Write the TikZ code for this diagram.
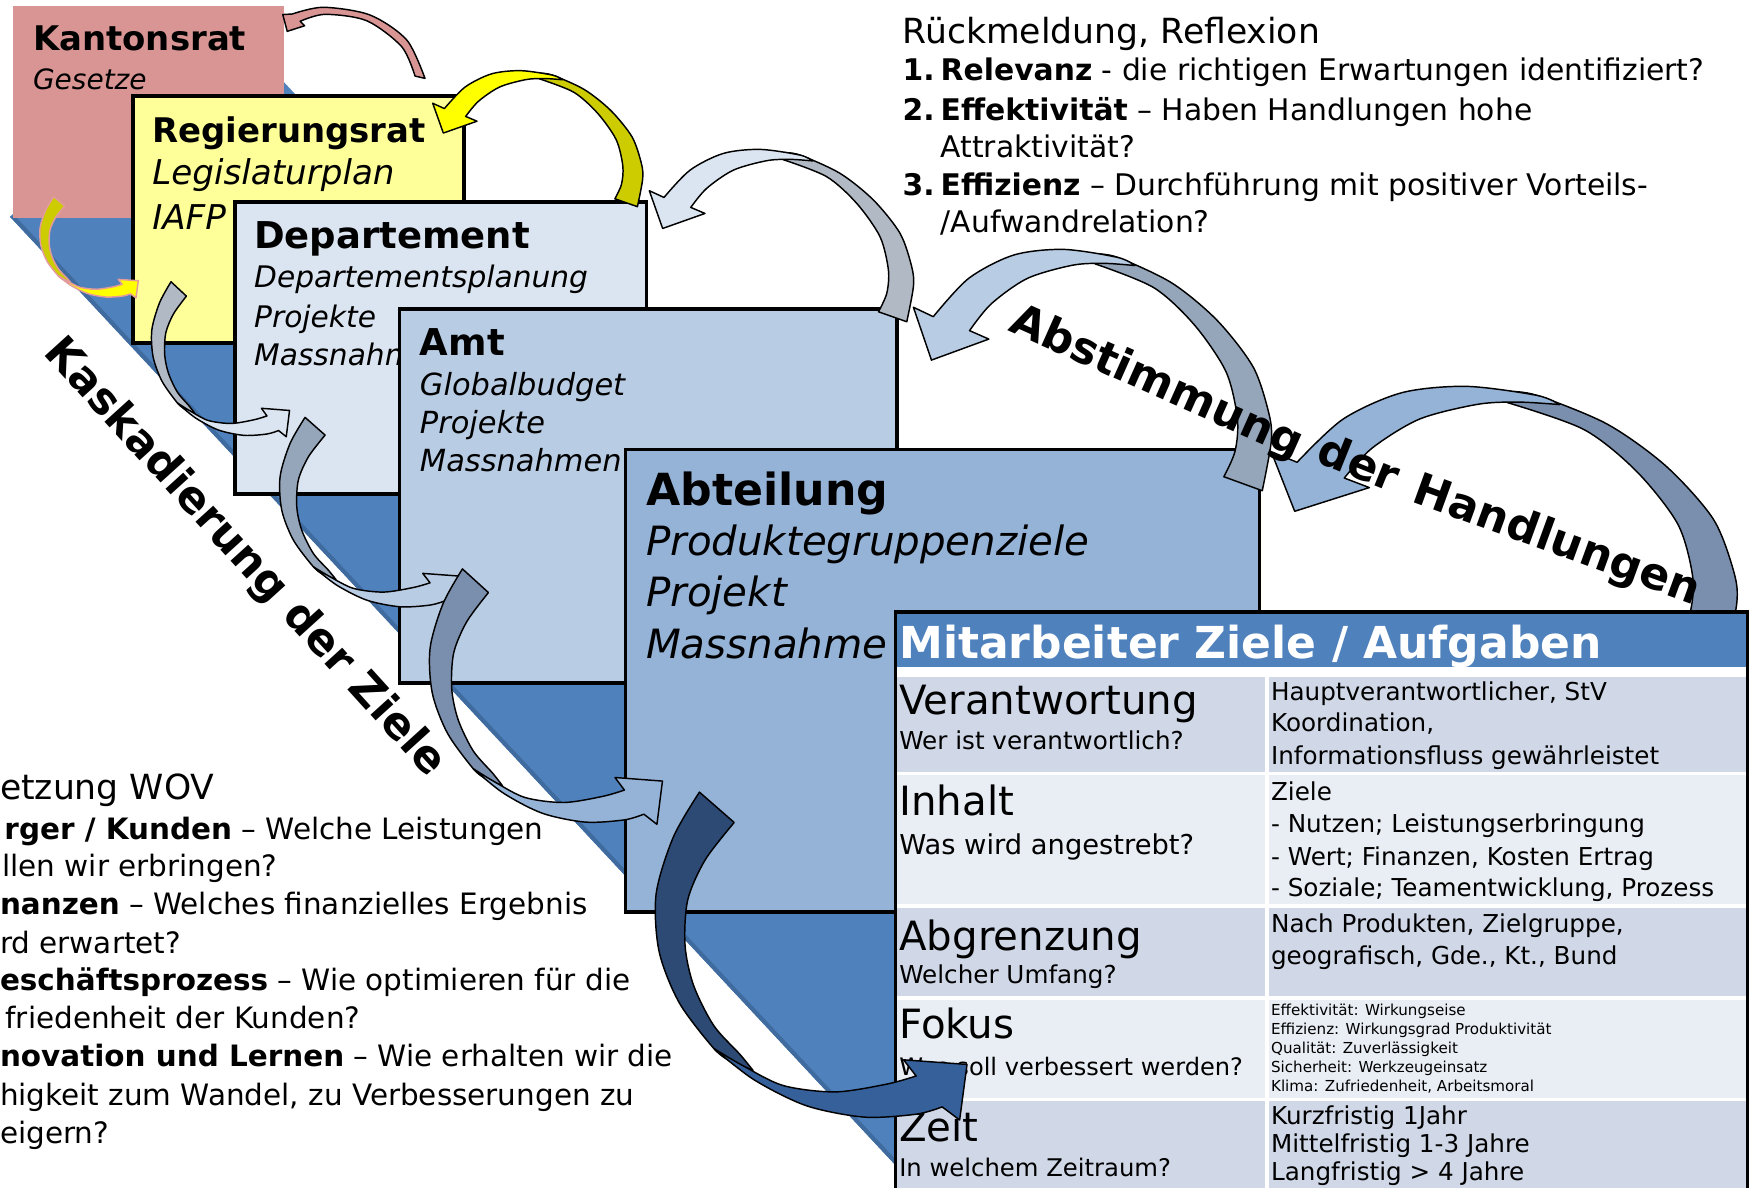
\documentclass[tikz,border=0pt]{standalone}
\usepackage{fontspec}
\setmainfont{DejaVu Sans}
\newcommand{\fsz}[1]{\fontsize{#1pt}{#1pt}\selectfont}
\definecolor{krc}{HTML}{D99594}
\definecolor{rrc}{HTML}{FFFF99}
\definecolor{depc}{HTML}{DBE5F1}
\definecolor{amtc}{HTML}{B8CCE4}
\definecolor{abtc}{HTML}{95B3D7}
\definecolor{bandc}{HTML}{4F81BD}
\definecolor{bandedge}{HTML}{3F6B9F}
\definecolor{hdrc}{HTML}{4F81BD}
\definecolor{rowA}{HTML}{D0D8E8}
\definecolor{rowB}{HTML}{E9EDF4}
\definecolor{yelc}{HTML}{FFFF00}
\definecolor{yelb}{HTML}{CCCC00}
\definecolor{yelo}{HTML}{E39B9B}
\definecolor{gback}{HTML}{B0B9C4}
\definecolor{hback}{HTML}{95A6BA}
\definecolor{iback}{HTML}{7A8FAE}
\definecolor{jback}{HTML}{2C4A74}
\definecolor{jfront}{HTML}{36609A}
\tikzset{
 boxn/.style={anchor=north west, draw=black, line width=3.5pt, inner sep=0pt, outer sep=0pt},
 cell/.style={anchor=north west, draw=none, inner sep=0pt, outer sep=0pt},
 txt/.style={anchor=base west, inner sep=0pt, outer sep=0pt},
 rot/.style={anchor=base, inner sep=0pt, outer sep=0pt, font=\fsz{39.5}\bfseries},
 arrline/.style={line width=1.3pt, line join=round},
}
\newcommand{\numlbl}[1]{\makebox[34pt][l]{\textbf{#1}}}
% curved arrow going down and to the right (cascade)
\newcommand{\cascarrow}[7]{%
\begin{scope}[shift={(#1,#2)},xscale=#3,yscale=#4]
\filldraw[fill=#5,draw=#7,arrline] (22.4,0) -- plot[smooth] coordinates {(22.4,0) (9.0,23.3) (0.1,53.0) (1.6,82.8) (12.0,109.6) (29.8,133.4) (38,139.8)} -- (50,144.8) -- plot[smooth] coordinates {(50,144.8) (43.2,136.4) (29.8,121.5) (19.4,100.6) (15.0,79.8) (16.4,56.0) (25.4,35.2) (40.3,15.8)} -- cycle;
\filldraw[fill=#6,draw=#7,arrline] plot[smooth] coordinates {(29.8,133.4) (50.7,149.8) (77.5,163.2) (107.2,169.1) (134.0,167.6) (147.4,163.8)} -- (156.4,170.6) -- (160.2,141.7) -- (127.5,139.3) -- (134.0,147.7) -- plot[smooth] coordinates {(134.0,147.7) (119.1,151.9) (92.4,156.0) (65.6,152.7) (44.7,142.3) (29.8,133.4)} -- cycle;
\end{scope}}
% curved arrow going up, over and down to the left (feedback)
\newcommand{\toparrow}[6]{%
\begin{scope}[shift={(#1,#2)},xscale=#3,yscale=#4]
\filldraw[fill=#5,draw=black,arrline] plot[smooth] coordinates {(120,2.9) (134.6,5.1) (170.3,21.4) (200.1,45.2) (223.9,75.0) (234.3,104.8) (235.8,122.6) (229.9,153.9)} -- (204.6,145) -- plot[smooth] coordinates {(204.6,145) (212,128.6) (213.5,107.8) (206,78) (185.2,48.2) (158.4,24.4) (119.7,9.2)} -- cycle;
\filldraw[fill=#6,draw=black,arrline] (0,36.9) -- (13.1,42.9) -- plot[smooth] coordinates {(13.1,42.9) (36.4,18.5) (66.1,3.6) (98.9,0) (134.6,5.1) (146,10.3)} -- plot[smooth] coordinates {(146,10.3) (125.7,8.9) (104.8,10.1) (75.1,18.5) (51.2,34.8) (37,51.8)} -- (49.7,57.2) -- (11.9,70.6) -- cycle;
\end{scope}}
\begin{document}
\begin{tikzpicture}[x=1pt,y=-1pt]
\useasboundingbox (0,0) rectangle (1568,1060);
\fill[white] (0,0) rectangle (1568,1060);
% diagonal band
\fill[bandc] (8.9,193.5) -- (200,16) -- (1186.6,1073) -- (830,1073) -- cycle;
\fill[bandedge] (8.9,193.5) -- (14,193.5) -- (835,1073) -- (830,1073) -- cycle;
% Kantonsrat
\node[boxn, draw=none, fill=krc, minimum width=242pt, minimum height=189.5pt] (kr) at (12,5) {};
\node[txt, font=\fsz{30.3}\bfseries] (krt) at (29.5,45.2) {Kantonsrat};
\node[txt, font=\fsz{25}\itshape] (krs) at (29.5,79.8) {Gesetze};
% pink arrow
\filldraw[fill=krc,draw=black,arrline] (252.5,13) -- (261,12.5) -- plot[smooth] coordinates {(261,12.5) (288.7,6.5) (330.4,13.4) (363.2,35.7) (379.5,70)} -- (370.6,67.9) -- plot[smooth] coordinates {(370.6,67.9) (358.7,41.7) (327.4,18.5) (290.2,12.8) (268,19)} -- (272,23) -- (256.5,28) -- cycle;
% Regierungsrat
\node[boxn, fill=rrc, minimum width=295.5pt, minimum height=220.5pt] (rr) at (118.75,85.75) {};
\node[txt, font=\fsz{30.3}\bfseries] (rrt) at (136,127) {Regierungsrat};
\node[txt, font=\fsz{30.5}\itshape] (rr1) at (136,165) {Legislaturplan};
\node[txt, font=\fsz{30.5}\itshape] (rr2) at (136,205) {IAFP};
\cascarrow{35.7}{175.6}{0.548}{0.53}{yelb}{yelc}{yelo}
% Departement
\node[boxn, fill=depc, minimum width=367.5pt, minimum height=260.5pt] (dep) at (209.75,180.75) {};
\node[txt, font=\fsz{33}\bfseries] (dept) at (227,222) {Departement};
\node[txt, font=\fsz{26.5}\itshape] (dep1) at (227,257) {Departementsplanung};
\node[txt, font=\fsz{26.5}\itshape] (dep2) at (227,292) {Projekte};
\node[txt, font=\fsz{26.5}\itshape] (dep3) at (227,326) {Massnahm};
\toparrow{386.4}{63.1}{0.795}{0.789}{yelb}{yelc}
\cascarrow{135.5}{251.6}{0.768}{0.811}{gback}{depc}{black}
% Amt
\node[boxn, fill=amtc, minimum width=444.5pt, minimum height=334.5pt] (amt) at (356.75,275.75) {};
\node[txt, font=\fsz{33}\bfseries] (amtt) at (375,317) {Amt};
\node[txt, font=\fsz{27.2}\itshape] (amt1) at (375,353) {Globalbudget};
\node[txt, font=\fsz{27.2}\itshape] (amt2) at (375,387) {Projekte};
\node[txt, font=\fsz{27.2}\itshape] (amt3) at (375,421) {Massnahmen};
\toparrow{579.8}{133.4}{1}{1}{gback}{depc}
\cascarrow{250}{372.7}{1}{1}{hback}{amtc}{black}
% Abteilung
\node[boxn, line width=3pt, fill=abtc, minimum width=566pt, minimum height=413pt] (abt) at (558.5,401.5) {};
\node[txt, font=\fsz{39.5}\bfseries] (abtt) at (577,451) {Abteilung};
\node[txt, font=\fsz{36}\itshape] (abt1) at (577,496) {Produktegruppenziele};
\node[txt, font=\fsz{36}\itshape] (abt2) at (577,542) {Projekt};
\node[txt, font=\fsz{36}\itshape] (abt3) at (577,588) {Massnahme};
\toparrow{815.6}{222.7}{1.355}{1.40}{hback}{amtc}
\cascarrow{383.9}{508}{1.296}{1.337}{iback}{abtc}{black}
\toparrow{1135.1}{345}{1.763}{1.58}{iback}{abtc}
% table
\node[cell, fill=white, minimum width=761pt, minimum height=540pt] (tab) at (799.5,546.5) {};
\node[cell, fill=hdrc, minimum width=761pt, minimum height=49.5pt] (hdr) at (799.5,546.5) {};
\node[cell, fill=rowA, minimum width=330pt, minimum height=84.5pt] (c1l) at (799.5,604.5) {};
\node[cell, fill=rowA, minimum width=427.5pt, minimum height=84.5pt] (c1r) at (1133,604.5) {};
\node[cell, fill=rowB, minimum width=330pt, minimum height=115.5pt] (c2l) at (799.5,692) {};
\node[cell, fill=rowB, minimum width=427.5pt, minimum height=115.5pt] (c2r) at (1133,692) {};
\node[cell, fill=rowA, minimum width=330pt, minimum height=79pt] (c3l) at (799.5,810.5) {};
\node[cell, fill=rowA, minimum width=427.5pt, minimum height=79pt] (c3r) at (1133,810.5) {};
\node[cell, fill=rowB, minimum width=330pt, minimum height=87pt] (c4l) at (799.5,893) {};
\node[cell, fill=rowB, minimum width=427.5pt, minimum height=87pt] (c4r) at (1133,893) {};
\node[cell, fill=rowA, minimum width=330pt, minimum height=100pt] (c5l) at (799.5,983) {};
\node[cell, fill=rowA, minimum width=427.5pt, minimum height=100pt] (c5r) at (1133,983) {};
\draw[line width=3pt] (tab.north west) rectangle (tab.south east);
\node[txt, font=\fsz{39.3}\bfseries, text=white] (hdrt) at (803,588) {Mitarbeiter Ziele / Aufgaben};
\node[txt, font=\fsz{36}] (l1a) at (803,637.6) {Verantwortung};
\node[txt, font=\fsz{22}] (l1b) at (803,669.6) {Wer ist verantwortlich?};
\node[txt, font=\fsz{36}] (l2a) at (803,728) {Inhalt};
\node[txt, font=\fsz{24.4}] (l2b) at (803,762.6) {Was wird angestrebt?};
\node[txt, font=\fsz{36}] (l3a) at (803,848.5) {Abgrenzung};
\node[txt, font=\fsz{22}] (l3b) at (803,878.6) {Welcher Umfang?};
\node[txt, font=\fsz{36}] (l4a) at (803,927.1) {Fokus};
\node[txt, font=\fsz{21.5}] (l4b) at (803,960.6) {Was soll verbessert werden?};
\node[txt, font=\fsz{36}] (l5a) at (803,1019) {Zeit};
\node[txt, font=\fsz{21.7}] (l5b) at (803,1050.9) {In welchem Zeitraum?};
\node[txt, font=\fsz{22}] (r1a) at (1135,625.4) {Hauptverantwortlicher, StV};
\node[txt, font=\fsz{22}] (r1b) at (1135,653.5) {Koordination,};
\node[txt, font=\fsz{22}] (r1c) at (1135,682.2) {Informationsfluss gewährleistet};
\node[txt, font=\fsz{22}] (r2a) at (1135,714.8) {Ziele};
\node[txt, font=\fsz{22}] (r2b) at (1135,743.2) {- Nutzen; Leistungserbringung};
\node[txt, font=\fsz{22}] (r2c) at (1135,772.6) {- Wert; Finanzen, Kosten Ertrag};
\node[txt, font=\fsz{22}] (r2d) at (1135,800.7) {- Soziale; Teamentwicklung, Prozess};
\node[txt, font=\fsz{22}] (r3a) at (1135,832.8) {Nach Produkten, Zielgruppe,};
\node[txt, font=\fsz{22}] (r3b) at (1135,860.9) {geografisch, Gde., Kt., Bund};
\node[txt, font=\fsz{13.5}] (r4a) at (1135,906.4) {Effektivität: Wirkungseise};
\node[txt, font=\fsz{13.5}] (r4b) at (1135,923.8) {Effizienz: Wirkungsgrad Produktivität};
\node[txt, font=\fsz{13.5}] (r4c) at (1135,940.5) {Qualität: Zuverlässigkeit};
\node[txt, font=\fsz{13.5}] (r4d) at (1135,957.9) {Sicherheit: Werkzeugeinsatz};
\node[txt, font=\fsz{13.5}] (r4e) at (1135,974.6) {Klima: Zufriedenheit, Arbeitsmoral};
\node[txt, font=\fsz{22}] (r5a) at (1135,1004) {Kurzfristig 1Jahr};
\node[txt, font=\fsz{22}] (r5b) at (1135,1029) {Mittelfristig 1-3 Jahre};
\node[txt, font=\fsz{22}] (r5c) at (1135,1054.2) {Langfristig > 4 Jahre};
\cascarrow{585.7}{707.3}{1.734}{1.716}{jback}{jfront}{black}
% upper right text
\node[txt, font=\fsz{30.9}] (rm) at (806,39) {Rückmeldung, Reflexion};
\node[txt, font=\fsz{26.6}] (rm1) at (806,72) {\numlbl{1.}\textbf{Relevanz} - die richtigen Erwartungen identifiziert?};
\node[txt, font=\fsz{26.6}] (rm2) at (806,108) {\numlbl{2.}\textbf{Effektivität} – Haben Handlungen hohe};
\node[txt, font=\fsz{26.6}] (rm3) at (840,141) {Attraktivität?};
\node[txt, font=\fsz{26.6}] (rm4) at (806,175) {\numlbl{3.}\textbf{Effizienz} – Durchführung mit positiver Vorteils-};
\node[txt, font=\fsz{26.6}] (rm5) at (840,208) {/Aufwandrelation?};
% lower left text
\node[txt, font=\fsz{30.9}] (um) at (0,714) {etzung WOV};
\node[txt, font=\fsz{26.3}] (um1) at (4,750) {\textbf{rger / Kunden} – Welche Leistungen};
\node[txt, font=\fsz{26.3}] (um2) at (2,783) {llen wir erbringen?};
\node[txt, font=\fsz{26.3}] (um3) at (0,817) {\textbf{nanzen} – Welches finanzielles Ergebnis};
\node[txt, font=\fsz{26.3}] (um4) at (0,851) {rd erwartet?};
\node[txt, font=\fsz{26.3}] (um5) at (0,884) {\textbf{eschäftsprozess} – Wie optimieren für die};
\node[txt, font=\fsz{26.3}] (um6) at (5,918) {friedenheit der Kunden?};
\node[txt, font=\fsz{26.3}] (um7) at (0,952) {\textbf{novation und Lernen} – Wie erhalten wir die};
\node[txt, font=\fsz{26.3}] (um8) at (0,987) {higkeit zum Wandel, zu Verbesserungen zu};
\node[txt, font=\fsz{26.3}] (um9) at (0,1021) {eigern?};
% rotated labels
\node[rot, font=\fsz{39.1}\bfseries, rotate=-47.8] (kask1) at (139.9,427.6) {Kaskadierung};
\node[rot, font=\fsz{39.1}\bfseries, rotate=-47.8] (kask2) at (275.7,577.4) {der};
\node[rot, font=\fsz{39.1}\bfseries, rotate=-47.8] (kask3) at (346,654.9) {Ziele};
\node[rot, rotate=-24] (ab1) at (1028,352.4) {Abstimmung};
\node[rot, rotate=-22] (ab2) at (1208.5,426) {der};
\node[rot, rotate=-20] (ab3) at (1386.3,494.2) {Handlungen};
\end{tikzpicture}
\end{document}
